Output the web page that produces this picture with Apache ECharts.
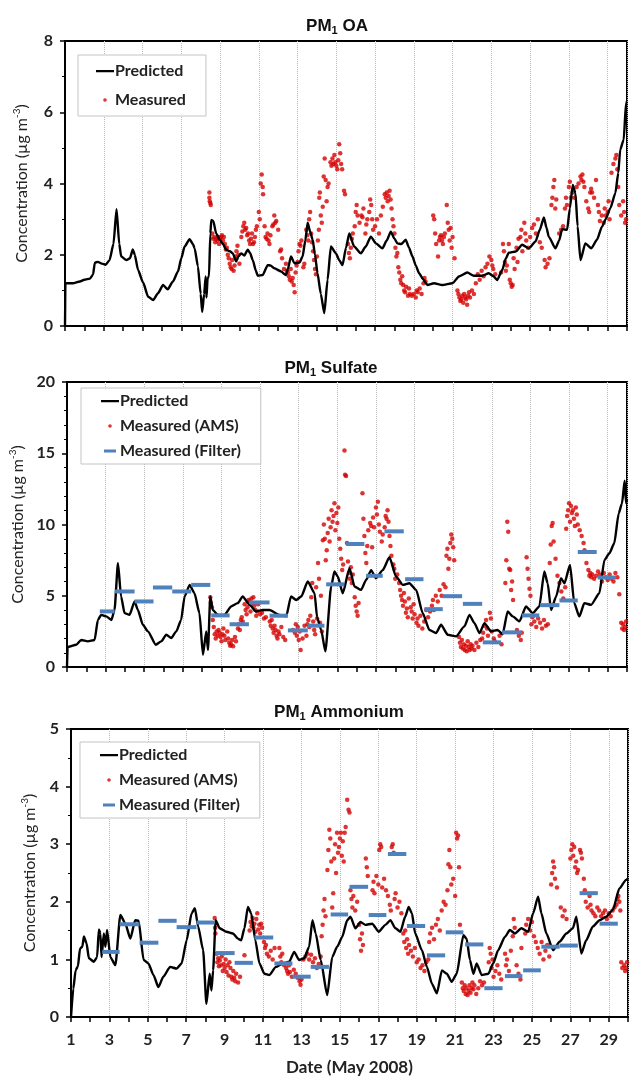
<!DOCTYPE html>
<html>
<head>
<meta charset="utf-8">
<script src="https://cdn.jsdelivr.net/npm/echarts@6/dist/echarts.min.js"></script>
<style>html,body{margin:0;padding:0;background:#fff}#c{width:630px;height:1080px}</style>
</head>
<body>
<div id="c"></div>
<script>
// ---------- data (day of May 2008, concentration in µg m-3) ----------
const dayTicks = [1,3,5,7,9,11,13,15,17,19,21,23,25,27,29];

const predOA = [[1,0],[1.02,1.2],[1.4,1.2],[1.77,1.25],[2.0,1.3],[2.29,1.33],[2.45,1.45],[2.54,1.78],[2.7,1.8],[2.9,1.75],[3.1,1.72],[3.3,1.85],[3.5,2.3],[3.66,3.28],[3.8,2.3],[3.9,1.95],[4.17,1.85],[4.35,1.9],[4.5,2.15],[4.6,2.0],[4.77,1.57],[5.03,1.22],[5.29,0.82],[5.55,0.73],[5.8,0.92],[6.06,1.15],[6.3,1.03],[6.57,1.25],[6.83,1.53],[7.0,1.9],[7.17,2.23],[7.43,2.44],[7.6,2.3],[7.69,2.18],[7.86,1.67],[8.0,0.9],[8.08,0.4],[8.18,0.9],[8.26,1.39],[8.3,0.8],[8.36,1.35],[8.43,1.39],[8.5,2.6],[8.55,2.98],[8.65,2.95],[8.8,2.6],[8.98,2.42],[9.15,2.3],[9.32,2.14],[9.5,2.1],[9.66,2.04],[9.83,1.81],[9.95,1.95],[10.09,2.04],[10.25,1.98],[10.43,2.14],[10.55,2.05],[10.69,1.85],[10.85,1.55],[10.95,1.41],[11.2,1.43],[11.46,1.71],[11.6,1.7],[11.8,1.62],[12.15,1.53],[12.4,1.43],[12.5,1.6],[12.66,1.95],[12.84,1.76],[13.1,1.78],[13.26,1.95],[13.4,2.4],[13.52,2.9],[13.65,2.65],[13.78,2.42],[13.9,2.0],[14.03,1.48],[14.2,0.9],[14.38,0.36],[14.55,1.3],[14.72,2.23],[14.98,2.04],[15.15,1.85],[15.32,1.71],[15.5,2.2],[15.67,2.6],[15.92,2.23],[16.27,2.04],[16.52,2.23],[16.78,2.51],[17.04,2.32],[17.38,2.18],[17.6,2.4],[17.81,2.65],[18.0,2.45],[18.15,2.32],[18.35,2.3],[18.58,2.42],[18.75,2.2],[18.93,1.95],[19.1,1.7],[19.27,1.48],[19.5,1.3],[19.7,1.15],[20.04,1.2],[20.47,1.15],[20.99,1.2],[21.33,1.39],[21.76,1.5],[22.1,1.41],[22.53,1.41],[22.87,1.48],[23.1,1.4],[23.3,1.29],[23.56,1.57],[23.75,1.9],[23.9,2.06],[24.25,2.09],[24.59,2.28],[24.93,2.18],[25.28,2.37],[25.5,2.7],[25.71,3.05],[25.85,2.75],[25.96,2.51],[26.31,2.18],[26.5,2.4],[26.65,2.72],[26.91,2.7],[27.05,3.3],[27.2,3.96],[27.34,3.73],[27.45,2.8],[27.6,1.85],[27.85,2.32],[28.16,2.18],[28.45,2.42],[28.71,2.79],[28.9,3.0],[29.14,3.31],[29.4,3.73],[29.55,4.3],[29.65,4.95],[29.83,5.23],[29.95,6.26],[30,6.3]];

const amsOA = [[8.45,3.75],[8.45,3.6],[8.47,3.5],[8.5,3.45],[8.52,3.4],[8.6,2.6],[8.65,2.45],[8.7,2.5],[8.75,2.35],[8.8,2.45],[8.85,2.4],[8.9,2.5],[8.95,2.3],[9.0,2.45],[9.05,2.5],[9.1,2.55],[9.15,2.4],[9.2,2.5],[9.25,2.3],[9.3,2.15],[9.35,2.2],[9.4,2.0],[9.45,1.9],[9.5,1.75],[9.55,1.65],[9.6,1.6],[9.62,1.85],[9.7,1.55],[9.75,1.7],[9.8,1.95],[9.85,2.1],[9.9,2.25],[9.95,2.0],[10.0,1.75],[10.1,2.5],[10.15,2.65],[10.2,2.8],[10.25,2.9],[10.3,2.7],[10.35,2.75],[10.4,2.55],[10.45,2.6],[10.5,2.4],[10.55,2.3],[10.6,2.45],[10.65,2.6],[10.7,2.3],[10.75,2.35],[10.8,2.5],[10.85,2.7],[10.9,2.8],[11.0,3.2],[11.05,3.0],[11.1,4.0],[11.15,4.25],[11.2,3.9],[11.22,3.7],[11.3,2.8],[11.35,2.5],[11.4,2.45],[11.45,2.6],[11.5,2.4],[11.55,2.3],[11.6,2.55],[11.7,2.8],[11.75,2.85],[11.8,3.1],[11.85,2.9],[11.9,2.95],[12.0,2.7],[12.1,2.1],[12.15,2.15],[12.2,1.9],[12.3,1.6],[12.4,1.75],[12.45,1.55],[12.5,1.5],[12.55,1.4],[12.6,1.3],[12.65,1.6],[12.7,1.25],[12.75,1.35],[12.8,1.15],[12.85,0.95],[12.9,1.5],[12.95,1.7],[13.0,1.8],[13.05,2.1],[13.1,2.3],[13.15,2.25],[13.2,2.4],[13.3,1.65],[13.35,1.75],[13.45,2.7],[13.5,2.55],[13.55,2.4],[13.6,3.0],[13.65,3.2],[13.7,2.6],[13.75,2.35],[13.8,2.1],[13.85,1.85],[13.9,1.6],[13.95,1.45],[14.0,1.95],[14.05,2.4],[14.1,2.7],[14.12,3.6],[14.15,3.75],[14.2,3.1],[14.25,2.9],[14.3,3.35],[14.35,4.2],[14.4,4.7],[14.45,4.1],[14.5,3.5],[14.55,3.9],[14.6,4.0],[14.7,4.6],[14.75,4.5],[14.8,4.7],[14.85,4.55],[14.9,4.8],[14.95,4.6],[15.0,4.5],[15.05,4.4],[15.1,4.65],[15.15,5.1],[15.2,4.85],[15.25,4.55],[15.3,4.4],[15.4,3.8],[15.45,3.7],[15.6,2.3],[15.65,2.05],[15.7,1.9],[15.75,2.2],[15.8,2.45],[15.85,2.6],[15.95,2.8],[16.0,3.2],[16.05,3.4],[16.1,3.1],[16.2,2.9],[16.3,3.1],[16.35,3.05],[16.4,3.3],[16.5,2.6],[16.55,2.85],[16.6,3.0],[16.7,3.2],[16.75,3.55],[16.8,3.4],[16.85,3.0],[16.9,2.7],[17.0,2.8],[17.1,3.0],[17.2,2.6],[17.3,3.1],[17.4,3.35],[17.5,3.7],[17.55,3.6],[17.6,3.75],[17.65,3.5],[17.7,3.65],[17.75,3.8],[17.8,3.55],[17.85,3.3],[17.9,3.0],[17.95,2.8],[18.0,2.6],[18.05,2.2],[18.1,1.95],[18.15,2.05],[18.2,1.65],[18.25,1.5],[18.3,1.3],[18.35,1.2],[18.4,1.4],[18.45,1.15],[18.5,1.0],[18.55,0.95],[18.6,1.1],[18.7,0.85],[18.75,1.05],[18.8,0.9],[18.9,0.85],[19.0,0.9],[19.1,0.8],[19.15,1.0],[19.2,0.95],[19.3,1.05],[19.4,0.9],[19.5,1.2],[19.55,1.35],[19.6,1.25],[20.0,3.1],[20.05,3.0],[20.1,2.6],[20.15,2.3],[20.25,1.95],[20.3,2.4],[20.35,2.5],[20.4,2.55],[20.45,2.4],[20.5,2.3],[20.55,2.5],[20.6,2.6],[20.7,3.4],[20.75,2.9],[20.8,2.7],[20.85,2.4],[20.9,2.75],[20.95,2.2],[21.0,2.5],[21.1,1.9],[21.25,1.0],[21.3,0.9],[21.35,0.8],[21.4,0.7],[21.45,0.75],[21.5,0.85],[21.55,0.65],[21.6,0.9],[21.65,0.8],[21.7,0.75],[21.75,0.6],[21.8,0.85],[21.85,0.95],[21.9,0.8],[22.0,1.0],[22.1,0.9],[22.2,1.2],[22.3,1.45],[22.4,1.3],[22.5,1.55],[22.6,1.4],[22.7,1.65],[22.8,1.75],[22.9,1.95],[23.0,1.85],[23.05,1.7],[23.1,1.6],[23.2,1.45],[23.5,1.5],[23.6,2.3],[23.65,2.1],[23.7,1.8],[23.75,1.55],[23.8,1.7],[23.9,2.3],[23.95,1.3],[24.0,1.2],[24.05,1.1],[24.1,1.15],[24.15,1.9],[24.2,1.6],[24.3,2.2],[24.35,1.8],[24.4,2.45],[24.5,2.5],[24.55,2.7],[24.6,2.1],[24.7,2.9],[24.75,2.6],[24.8,2.4],[24.9,2.2],[25.0,2.5],[25.1,2.75],[25.2,2.85],[25.3,2.6],[25.4,3.0],[25.5,2.35],[25.6,2.2],[25.75,1.85],[25.8,1.65],[25.9,1.75],[26.0,1.9],[26.1,3.4],[26.15,3.6],[26.2,3.9],[26.25,4.1],[26.3,3.3],[26.35,3.55],[26.5,2.6],[26.6,2.7],[26.7,2.8],[26.8,3.3],[26.85,3.6],[26.9,3.4],[27.0,3.9],[27.05,4.05],[27.1,3.6],[27.2,3.75],[27.3,3.6],[27.4,3.9],[27.5,4.0],[27.6,4.2],[27.65,4.1],[27.7,4.25],[27.75,4.05],[27.8,3.9],[27.9,3.5],[28.0,3.3],[28.05,3.2],[28.1,3.75],[28.15,3.85],[28.2,3.75],[28.3,3.6],[28.4,4.1],[28.5,3.4],[28.55,3.2],[28.6,2.95],[28.7,3.1],[28.8,2.9],[28.85,3.3],[28.9,3.1],[29.0,3.2],[29.05,3.5],[29.1,3.0],[29.2,4.3],[29.3,4.55],[29.4,4.7],[29.45,4.8],[29.5,4.4],[29.55,3.9],[29.6,3.4],[29.7,3.1],[29.8,3.5],[29.85,3.2],[29.9,2.9],[29.95,3.0]];

const predSO4 = [[1,0],[1.03,1.4],[1.48,1.56],[1.74,1.9],[2.08,1.8],[2.43,1.9],[2.6,3.3],[2.77,3.66],[3.03,3.55],[3.3,3.3],[3.46,4.0],[3.64,7.28],[3.8,4.95],[3.98,3.78],[4.24,3.66],[4.5,4.6],[4.67,4.0],[4.93,2.96],[5.19,2.5],[5.6,1.56],[5.88,1.8],[6.14,2.26],[6.4,2.03],[6.66,2.5],[6.91,3.3],[7.09,4.95],[7.35,5.76],[7.6,5.18],[7.86,3.78],[8.04,0.86],[8.21,2.5],[8.3,1.2],[8.42,4.95],[8.55,4.0],[8.81,3.66],[9.16,3.66],[9.5,4.25],[9.84,4.48],[10.1,4.95],[10.45,4.36],[10.8,3.9],[11.14,4.0],[11.49,4.0],[12.0,3.66],[12.35,3.55],[12.6,4.95],[12.87,4.7],[13.13,4.95],[13.47,6.0],[13.82,5.18],[13.95,3.5],[14.16,2.6],[14.38,1.1],[14.68,5.65],[14.85,6.7],[15.02,6.35],[15.28,5.18],[15.63,6.93],[15.89,5.65],[16.23,5.41],[16.49,6.11],[16.75,6.8],[17.0,6.23],[17.35,6.8],[17.7,7.7],[18.04,6.35],[18.39,5.76],[18.73,5.88],[19.08,5.41],[19.42,3.78],[19.77,2.6],[20.11,2.38],[20.37,2.96],[20.72,2.26],[21.15,2.15],[21.58,2.85],[21.84,3.66],[22.1,3.08],[22.36,2.38],[22.62,3.08],[22.96,2.5],[23.3,2.6],[23.56,2.3],[23.82,3.9],[24.08,3.55],[24.43,3.2],[24.77,4.25],[25.12,3.78],[25.46,4.25],[25.72,6.7],[25.89,5.88],[26.07,4.0],[26.33,4.95],[26.58,6.23],[26.76,5.88],[27.05,7.16],[27.27,4.48],[27.53,3.55],[27.79,4.48],[28.14,4.36],[28.57,5.18],[28.83,7.5],[29.09,7.98],[29.34,8.68],[29.57,10.78],[29.74,11.48],[29.88,13.07],[29.95,11.5],[30,11.8]];

const amsSO4 = [[8.42,4.9],[8.45,4.5],[8.5,4.2],[8.55,3.3],[8.6,2.8],[8.65,2.3],[8.7,2.0],[8.75,2.5],[8.8,2.2],[8.85,2.6],[8.9,2.4],[8.95,2.1],[9.0,1.8],[9.05,2.3],[9.1,2.7],[9.15,2.2],[9.2,1.9],[9.3,2.5],[9.35,2.0],[9.4,1.7],[9.45,1.5],[9.5,1.6],[9.55,1.9],[9.6,1.45],[9.7,2.1],[9.75,1.8],[9.85,2.7],[9.9,3.0],[9.95,2.6],[10.0,3.3],[10.05,3.5],[10.1,3.2],[10.2,4.4],[10.25,4.0],[10.3,3.7],[10.35,4.2],[10.4,4.7],[10.45,4.6],[10.5,3.9],[10.55,4.8],[10.6,4.5],[10.65,4.9],[10.7,4.3],[10.75,4.0],[10.8,3.6],[10.85,3.9],[10.9,4.4],[11.0,3.7],[11.1,3.8],[11.2,3.4],[11.3,3.5],[11.5,3.2],[11.55,2.9],[11.6,3.3],[11.65,2.7],[11.7,2.4],[11.75,2.9],[11.8,2.6],[11.85,2.2],[11.9,2.0],[11.95,2.5],[12.0,2.3],[12.1,2.8],[12.2,2.1],[12.3,1.9],[12.7,2.6],[12.8,2.4],[12.85,3.0],[12.9,2.2],[12.95,2.8],[13.0,1.9],[13.05,2.5],[13.1,1.2],[13.2,2.0],[13.3,2.9],[13.4,2.2],[13.45,3.0],[13.5,3.3],[13.55,2.8],[13.6,3.6],[13.65,4.9],[13.7,5.9],[13.75,3.2],[13.8,2.6],[13.85,2.3],[13.9,5.6],[13.95,3.4],[14.0,7.3],[14.05,6.2],[14.1,3.1],[14.15,5.0],[14.2,2.5],[14.25,8.9],[14.3,10.0],[14.35,9.0],[14.4,7.5],[14.45,8.2],[14.5,9.4],[14.55,10.4],[14.6,8.8],[14.65,9.8],[14.7,11.0],[14.75,10.2],[14.8,10.6],[14.85,11.5],[14.9,9.6],[14.95,10.8],[15.0,10.1],[15.05,11.2],[15.1,9.0],[15.15,8.3],[15.2,7.6],[15.25,6.8],[15.3,7.2],[15.37,15.2],[15.4,13.5],[15.45,13.4],[15.5,8.7],[15.55,7.4],[15.6,6.6],[15.65,6.2],[15.7,7.0],[15.75,5.9],[15.8,6.5],[15.9,4.9],[15.95,4.3],[16.0,3.9],[16.05,3.6],[16.1,4.5],[16.3,12.2],[16.35,10.4],[16.4,9.2],[16.45,8.0],[16.5,7.3],[16.55,8.5],[16.6,9.6],[16.7,10.1],[16.75,9.9],[16.8,8.4],[16.85,10.5],[16.9,9.8],[17.0,11.2],[17.05,10.7],[17.1,11.6],[17.15,10.0],[17.2,9.5],[17.3,8.8],[17.35,9.3],[17.45,9.8],[17.5,10.6],[17.55,10.4],[17.6,11.0],[17.65,10.2],[17.7,9.2],[17.75,8.5],[17.8,7.8],[17.9,7.2],[17.95,6.9],[18.0,6.2],[18.1,6.5],[18.2,5.9],[18.25,5.4],[18.3,5.0],[18.35,4.7],[18.4,4.3],[18.45,5.2],[18.5,4.6],[18.55,3.8],[18.6,4.1],[18.65,3.5],[18.7,4.8],[18.8,4.2],[18.85,3.9],[18.9,3.4],[18.95,4.4],[19.0,3.7],[19.1,3.1],[19.15,3.4],[19.2,2.9],[19.3,3.6],[19.4,2.7],[19.5,3.2],[19.6,4.0],[19.7,3.5],[19.8,3.9],[19.9,4.3],[19.95,4.7],[20.0,4.0],[20.1,5.0],[20.2,4.6],[20.3,5.4],[20.4,5.0],[20.5,5.8],[20.6,5.6],[20.65,7.8],[20.7,8.3],[20.75,6.9],[20.8,7.6],[20.85,8.7],[20.9,9.3],[20.95,9.0],[21.0,8.4],[21.05,7.5],[21.3,2.1],[21.35,1.7],[21.4,1.4],[21.45,1.9],[21.5,1.3],[21.55,1.6],[21.6,1.2],[21.65,1.5],[21.7,1.1],[21.75,1.8],[21.8,1.4],[21.85,1.2],[21.9,1.6],[21.95,1.3],[22.0,1.5],[22.1,1.2],[22.2,1.7],[22.3,1.4],[22.4,1.9],[22.5,2.0],[22.55,2.4],[22.6,2.9],[22.7,3.3],[22.75,2.7],[22.8,2.2],[22.9,3.8],[22.95,3.4],[23.0,2.5],[23.1,2.0],[23.15,1.8],[23.4,2.2],[23.5,1.6],[23.7,5.9],[23.75,7.5],[23.8,10.2],[23.85,9.5],[23.9,6.9],[23.95,6.8],[24.0,5.4],[24.05,6.0],[24.1,4.7],[24.3,2.6],[24.4,2.2],[24.5,1.9],[24.55,2.4],[24.8,7.7],[24.85,6.9],[24.9,6.2],[24.95,5.5],[25.0,5.0],[25.05,3.0],[25.1,3.5],[25.2,3.2],[25.3,2.8],[25.4,3.4],[25.5,3.1],[25.6,2.7],[25.7,3.3],[25.8,2.9],[25.9,3.0],[26.0,7.3],[26.05,8.6],[26.1,9.9],[26.15,10.1],[26.2,8.8],[26.3,7.6],[26.4,6.4],[26.5,5.9],[26.6,5.3],[26.7,4.8],[26.8,5.6],[26.85,9.7],[26.9,10.6],[26.95,11.0],[27.0,11.5],[27.05,10.2],[27.1,11.3],[27.15,10.8],[27.2,11.0],[27.25,10.4],[27.3,9.9],[27.35,11.2],[27.4,10.7],[27.45,10.0],[27.55,9.6],[27.65,9.2],[27.75,8.7],[27.8,8.2],[27.9,7.3],[28.0,6.8],[28.05,6.4],[28.1,6.6],[28.15,6.3],[28.2,6.5],[28.3,6.2],[28.4,6.4],[28.5,6.7],[28.6,6.5],[28.7,6.0],[28.8,6.6],[28.9,6.3],[29.0,6.1],[29.1,6.5],[29.2,6.2],[29.3,6.0],[29.4,6.6],[29.5,6.3],[29.6,5.1],[29.7,3.1],[29.75,2.7],[29.8,3.0],[29.85,2.6],[29.9,2.8],[29.95,3.2]];

// filter samples: [start day, end day, value]
const filterSO4 = [[2.7,3.47,3.9],[3.47,4.5,5.3],[4.5,5.48,4.6],[5.45,6.45,5.58],[6.45,7.43,5.3],[7.43,8.42,5.76],[8.47,9.42,3.62],[9.42,10.42,3.0],[10.45,11.49,4.53],[11.49,12.44,3.6],[12.44,13.47,2.57],[13.47,14.33,2.9],[14.42,15.37,5.8],[15.45,16.4,8.63],[16.49,17.35,6.4],[17.44,18.44,9.52],[18.51,19.46,6.16],[19.51,20.46,4.06],[20.46,21.46,4.97],[21.5,22.5,4.43],[22.53,23.48,1.73],[23.53,24.56,2.43],[24.56,25.46,3.62],[25.5,26.5,4.34],[26.5,27.45,4.67],[27.45,28.43,8.07],[28.48,29.43,6.28]];

const predNH4 = [[1,0],[1.12,0.49],[1.24,0.81],[1.36,0.88],[1.47,1.19],[1.59,1.22],[1.67,1.4],[1.81,1.28],[1.93,1.02],[2.19,0.96],[2.36,1.04],[2.45,1.52],[2.53,1.45],[2.59,1.04],[2.71,1.45],[2.79,1.22],[2.88,1.51],[3.05,1.04],[3.31,0.9],[3.57,1.77],[3.83,1.62],[4.09,1.36],[4.34,1.68],[4.52,1.67],[4.78,0.99],[5.03,0.93],[5.29,0.73],[5.55,0.52],[5.81,0.7],[6.16,0.87],[6.5,0.84],[6.76,0.93],[7.02,1.33],[7.28,1.8],[7.45,1.89],[7.62,1.57],[7.88,1.16],[8.05,0.23],[8.22,0.75],[8.31,0.46],[8.4,0.81],[8.53,1.68],[8.74,1.54],[9.09,1.48],[9.43,1.45],[9.69,1.36],[9.86,1.33],[10.03,1.54],[10.21,1.91],[10.38,1.8],[10.6,1.33],[10.81,0.93],[11.07,0.75],[11.33,0.73],[11.67,0.87],[12.02,0.93],[12.36,0.96],[12.62,1.13],[12.88,0.99],[13.14,1.02],[13.4,1.22],[13.57,1.68],[13.74,1.45],[14.0,0.99],[14.34,0.38],[14.6,1.04],[14.86,1.22],[15.12,1.39],[15.38,1.68],[15.55,1.74],[15.81,1.54],[16.07,1.65],[16.33,1.6],[16.68,1.62],[17.02,1.48],[17.37,1.6],[17.63,1.68],[17.89,1.54],[18.15,1.48],[18.4,1.74],[18.58,1.91],[18.75,1.8],[18.92,1.45],[19.27,1.16],[19.53,0.87],[19.79,0.58],[20.05,0.41],[20.31,0.81],[20.57,0.75],[20.82,0.61],[21.08,0.75],[21.43,1.42],[21.6,1.36],[21.77,0.99],[21.95,0.75],[22.12,0.93],[22.38,0.73],[22.73,0.75],[22.98,0.93],[23.24,1.16],[23.59,1.39],[23.85,1.51],[24.11,1.45],[24.45,1.54],[24.8,1.48],[25.06,1.8],[25.32,2.09],[25.49,1.8],[25.75,1.45],[26.1,1.16],[26.45,1.31],[26.79,1.45],[27.13,1.54],[27.31,1.74],[27.57,1.1],[27.82,1.33],[28.17,1.57],[28.52,1.68],[28.86,1.74],[29.21,1.86],[29.55,2.23],[29.9,2.38],[30,2.4]];

const amsNH4 = [[8.48,1.72],[8.5,1.55],[8.52,1.45],[8.58,1.1],[8.62,0.95],[8.66,1.02],[8.7,0.88],[8.75,0.98],[8.8,0.9],[8.85,1.05],[8.9,0.8],[8.95,0.92],[9.0,0.85],[9.05,1.0],[9.1,0.78],[9.15,0.9],[9.2,0.72],[9.25,0.95],[9.3,0.85],[9.35,0.7],[9.4,0.65],[9.45,0.8],[9.5,0.68],[9.55,0.62],[9.6,0.75],[9.7,0.6],[9.8,0.7],[10.03,1.07],[10.3,1.5],[10.35,1.65],[10.4,1.58],[10.45,1.72],[10.5,1.55],[10.55,1.62],[10.6,1.48],[10.65,1.7],[10.7,1.8],[10.75,1.52],[10.8,1.6],[10.85,1.45],[10.9,1.62],[10.95,1.55],[11.05,1.3],[11.1,1.2],[11.15,1.25],[11.2,1.1],[11.3,1.05],[11.4,1.15],[11.5,1.0],[11.6,1.2],[11.85,1.2],[11.9,1.05],[11.95,0.95],[12.0,1.1],[12.1,0.9],[12.2,0.85],[12.25,0.8],[12.3,0.75],[12.35,0.9],[12.4,0.78],[12.5,0.7],[12.6,0.82],[12.7,0.75],[12.8,0.68],[12.9,0.62],[12.95,0.56],[13.0,0.65],[13.1,1.0],[13.2,1.05],[13.3,1.1],[13.4,1.0],[13.5,1.08],[13.6,0.95],[13.7,1.02],[13.8,0.85],[13.9,0.92],[14.0,1.05],[14.05,1.4],[14.1,1.6],[14.15,1.85],[14.2,2.05],[14.25,1.75],[14.35,2.55],[14.4,2.9],[14.45,3.25],[14.5,3.1],[14.55,2.7],[14.6,1.9],[14.65,2.15],[14.7,2.75],[14.75,3.0],[14.8,2.5],[14.85,3.2],[14.9,2.85],[14.95,2.95],[15.0,3.1],[15.05,3.2],[15.1,2.8],[15.15,3.05],[15.2,2.7],[15.25,3.2],[15.3,3.3],[15.38,3.77],[15.45,3.6],[15.5,3.55],[15.55,2.2],[15.6,2.05],[15.65,1.9],[15.7,2.1],[15.8,1.85],[15.9,2.0],[16.0,1.6],[16.05,1.35],[16.1,1.15],[16.15,1.45],[16.2,1.25],[16.35,2.75],[16.4,2.6],[16.45,2.45],[16.7,2.2],[16.75,2.35],[16.8,2.15],[16.9,2.45],[17.0,2.3],[17.05,2.9],[17.1,3.0],[17.15,2.95],[17.2,2.25],[17.3,2.4],[17.4,2.2],[17.5,2.1],[17.6,1.95],[17.65,1.85],[17.7,2.95],[17.75,3.0],[17.8,2.85],[17.85,2.05],[17.9,2.15],[18.0,1.9],[18.1,2.0],[18.2,1.8],[18.3,1.45],[18.35,1.3],[18.4,1.5],[18.45,1.2],[18.5,1.35],[18.55,1.1],[18.6,1.25],[18.7,1.15],[18.8,1.05],[18.9,1.2],[19.0,0.95],[19.1,1.0],[19.2,0.85],[19.3,0.9],[19.4,0.8],[19.5,0.95],[19.6,1.0],[19.65,1.3],[19.7,1.45],[19.8,1.55],[19.9,1.35],[20.0,1.6],[20.1,1.7],[20.2,1.5],[20.3,1.85],[20.4,2.0],[20.5,1.95],[20.6,2.2],[20.65,2.65],[20.7,2.9],[20.75,2.6],[20.8,2.3],[20.9,2.4],[21.0,2.1],[21.05,3.2],[21.1,3.1],[21.15,3.15],[21.2,2.6],[21.25,1.6],[21.35,0.6],[21.4,0.5],[21.45,0.45],[21.5,0.55],[21.55,0.4],[21.6,0.5],[21.65,0.38],[21.7,0.45],[21.75,0.55],[21.8,0.42],[21.85,0.5],[21.9,0.6],[21.95,0.48],[22.0,0.55],[22.1,0.4],[22.2,0.5],[22.3,0.62],[22.4,0.55],[22.5,0.6],[22.75,0.95],[22.8,1.2],[22.85,1.1],[22.9,0.85],[22.95,1.0],[23.0,0.7],[23.1,0.8],[23.2,0.9],[23.3,0.75],[23.4,0.65],[23.6,1.1],[23.65,0.9],[23.7,1.0],[23.8,0.8],[23.9,1.15],[24.0,1.4],[24.05,1.7],[24.1,1.55],[24.2,0.9],[24.3,0.75],[24.4,0.65],[24.45,1.2],[24.65,1.45],[24.7,1.6],[24.8,1.7],[24.9,1.5],[25.0,1.65],[25.1,1.4],[25.2,1.3],[25.3,1.2],[25.4,1.1],[25.5,1.3],[25.6,1.0],[25.7,1.15],[25.8,1.25],[25.9,1.05],[26.0,2.3],[26.05,2.5],[26.1,2.7],[26.15,2.6],[26.2,2.4],[26.3,2.25],[26.5,1.9],[26.6,1.75],[26.7,1.85],[26.8,1.7],[27.0,2.75],[27.05,2.9],[27.1,3.0],[27.15,2.8],[27.2,2.95],[27.25,2.6],[27.3,2.7],[27.35,2.5],[27.4,2.55],[27.5,2.9],[27.55,2.85],[27.6,2.75],[27.7,2.4],[27.75,2.2],[27.8,2.0],[27.9,1.9],[28.0,2.1],[28.05,1.95],[28.1,1.85],[28.2,1.8],[28.3,1.75],[28.4,1.9],[28.5,1.85],[28.6,1.75],[28.7,1.8],[28.8,1.85],[28.9,1.7],[29.0,1.8],[29.1,1.75],[29.2,1.85],[29.3,1.9],[29.4,1.95],[29.45,2.05],[29.5,2.1],[29.55,2.0],[29.6,1.85],[29.65,0.95],[29.7,0.85],[29.8,0.9],[29.85,0.8],[29.9,0.85],[29.95,0.95]];

const filterNH4 = [[2.62,3.53,1.13],[3.53,4.57,1.61],[4.57,5.55,1.29],[5.55,6.5,1.67],[6.5,7.53,1.56],[7.53,8.48,1.64],[8.53,9.52,1.11],[9.52,10.47,0.94],[10.55,11.53,1.38],[11.59,12.53,0.93],[12.53,13.48,0.7],[13.48,14.43,0.87],[14.52,15.43,1.78],[15.5,16.47,2.26],[16.5,17.42,1.77],[17.5,18.46,2.83],[18.49,19.44,1.58],[19.53,20.48,1.07],[20.51,21.43,1.47],[21.52,22.47,1.26],[22.52,23.47,0.5],[23.59,24.5,0.71],[24.54,25.46,0.81],[25.49,26.44,1.22],[26.44,27.39,1.24],[27.48,28.43,2.15],[28.52,29.47,1.62]];

// ---------- styling ----------
const RED = '#d40000', BLUE = '#4f81bd';
const NUMFONT = 'Lato, "Open Sans", sans-serif';
const lineIcon = 'path://M0,0L0,0.01Z M0,2L18,2L18,4.2L0,4.2Z M18,6L18,5.99Z';
const dotIcon = 'path://M0,0L0,0.01Z M7.2,3a1.8,1.8 0 1,0 3.6,0a1.8,1.8 0 1,0 -3.6,0Z M18,6L18,5.99Z';
const dashIcon = 'path://M0,0L0,0.01Z M3,1.5L15,1.5L15,4.5L3,4.5Z M18,6L18,5.99Z';

const grids = [
  {left:65, top:41, width:562, height:285},
  {left:67, top:382, width:560, height:285},
  {left:71, top:729, width:557, height:288}
];

function xAxis(i, showLabel){
  return {
    type:'value', gridIndex:i, min:1, max:30, interval:2,
    axisLine:{show:true, onZero:false, lineStyle:{color:'#000', width:2}},
    axisTick:{show:true, length:5, lineStyle:{color:'#000', width:1.5}},
    minorTick:{show:true, splitNumber:2, length:5, lineStyle:{color:'#000', width:1.5}},
    splitLine:{show:true, lineStyle:{color:'#b8b8b8', type:'dotted', width:1}},
    axisLabel:{show:showLabel, showMaxLabel:false, margin:15, color:'#222', fontWeight:'bold', fontSize:16, fontFamily:NUMFONT,
      formatter:function(v){return dayTicks.indexOf(v)>=0 ? String(v) : '';}},
    name: showLabel ? 'Date (May 2008)' : '',
    nameLocation:'middle', nameGap:42,
    nameTextStyle:{color:'#222', fontWeight:'bold', fontSize:17, fontFamily:NUMFONT}
  };
}
function yAxis(i, max, interval, minorSplit, gap){
  return {
    type:'value', gridIndex:i, min:0, max:max, interval:interval,
    axisLine:{show:true, onZero:false, lineStyle:{color:'#000', width:2}},
    axisTick:{show:true, length:5, lineStyle:{color:'#000', width:1.5}},
    minorTick:{show:true, splitNumber:minorSplit, length:3, lineStyle:{color:'#000', width:1}},
    splitLine:{show:false},
    axisLabel:{margin:12, color:'#222', fontWeight:'bold', fontSize:16, fontFamily:NUMFONT},
    name:'{a|Concentration (µg m}{s|-3}{a|)}',
    nameLocation:'middle', nameGap:gap,
    nameTextStyle:{rich:{
      a:{fontSize:16, lineHeight:19, color:'#222', fontFamily:NUMFONT},
      s:{fontSize:10, lineHeight:19, verticalAlign:'top', color:'#222', fontFamily:NUMFONT, padding:[0,0,6,0]}
    }}
  };
}
function title(label, top, left){
  return {
    text:'{a|PM}{s|1}{a| '+label+'}', left:left, top:top, textAlign:'center',
    textStyle:{rich:{
      a:{fontSize:17, fontWeight:'bold', color:'#111', fontFamily:'"Liberation Sans", Arial, sans-serif', lineHeight:20},
      s:{fontSize:11, fontWeight:'bold', color:'#111', fontFamily:'"Liberation Sans", Arial, sans-serif', lineHeight:20, verticalAlign:'bottom', padding:[6,0,0,0]}
    }}
  };
}
function legend(left, top, items, gap, pad){
  return {
    orient:'vertical', left:left, top:top, data:items, itemGap:gap,
    itemWidth:18, itemHeight:6, padding:pad,
    borderColor:'#c4c4c4', borderWidth:1, backgroundColor:'#fff',
    selectedMode:false,
    textStyle:{color:'#222', fontWeight:'bold', fontSize:16, fontFamily:NUMFONT, padding:[0,0,0,-4]}
  };
}
function lineSeries(name, i, data){
  return {type:'line', name:name, xAxisIndex:i, yAxisIndex:i, data:data, showSymbol:false, symbol:'none',
    smooth:0.2, smoothMonotone:'x', lineStyle:{color:'#000', width:2.4}, itemStyle:{color:'#000'}, z:3, silent:true};
}
function scatterSeries(name, i, data){
  return {type:'scatter', name:name, xAxisIndex:i, yAxisIndex:i, data:data, symbol:'circle', symbolSize:4.5,
    itemStyle:{color:RED}, z:2, silent:true};
}
function filterSeries(name, i, data){
  return {type:'custom', name:name, xAxisIndex:i, yAxisIndex:i, data:data, z:4, silent:true,
    encode:{x:[0,1], y:2}, itemStyle:{color:BLUE},
    renderItem:function(params, api){
      const a = api.coord([api.value(0), api.value(2)]);
      const b = api.coord([api.value(1), api.value(2)]);
      return {type:'line', shape:{x1:a[0], y1:a[1], x2:b[0], y2:b[1]}, style:{stroke:BLUE, lineWidth:4}};
    }};
}

const chart = echarts.init(document.getElementById('c'), null, {renderer:'canvas'});
chart.setOption({
  backgroundColor:'#fff',
  animation:false,
  title:[ title('OA', 11, 332), title('Sulfate', 353, 326), title('Ammonium', 697, 334) ],
  grid: grids.map(g => Object.assign({show:true, borderColor:'#000', borderWidth:2, backgroundColor:'transparent'}, g)),
  xAxis:[ xAxis(0,false), xAxis(1,false), xAxis(2,true) ],
  yAxis:[ yAxis(0,8,2,2,34), yAxis(1,20,5,5,36), yAxis(2,5,1,2,32) ],
  legend:[
    legend(78, 55, [{name:'Predicted', icon:lineIcon},{name:'Measured', icon:dotIcon}], 13, [8,20,8,18]),
    legend(81, 388, [{name:'Predicted', icon:lineIcon},{name:'Measured (AMS)', icon:dotIcon},{name:'Measured (Filter)', icon:dashIcon}], 9, [5,20,5,20]),
    legend(80, 742, [{name:'Predicted', icon:lineIcon},{name:'Measured (AMS)', icon:dotIcon},{name:'Measured (Filter)', icon:dashIcon}], 9, [5,20,5,20])
  ],
  series:[
    scatterSeries('Measured', 0, amsOA),
    lineSeries('Predicted', 0, predOA),
    scatterSeries('Measured (AMS)', 1, amsSO4),
    lineSeries('Predicted', 1, predSO4),
    filterSeries('Measured (Filter)', 1, filterSO4),
    scatterSeries('Measured (AMS)', 2, amsNH4),
    lineSeries('Predicted', 2, predNH4),
    filterSeries('Measured (Filter)', 2, filterNH4)
  ]
});
</script>
</body>
</html>
